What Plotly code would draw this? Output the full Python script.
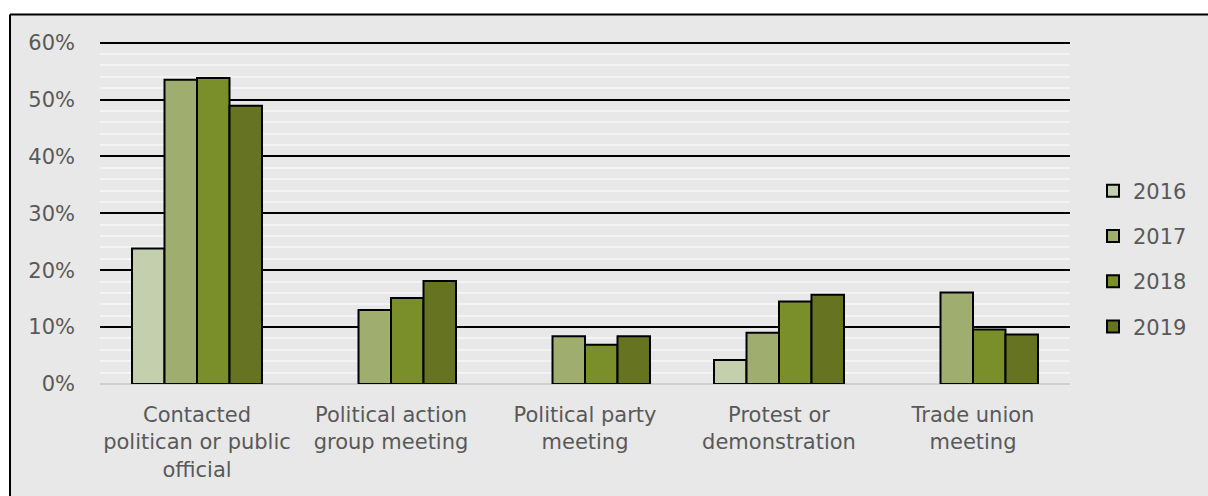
import plotly.graph_objects as go

categories = [
    "Contacted<br>politican or public<br>official",
    "Political action<br>group meeting",
    "Political party<br>meeting",
    "Protest or<br>demonstration",
    "Trade union<br>meeting",
]
years = ["2016", "2017", "2018", "2019"]
values_2016 = [0.238, None, None, 0.042, None]
values_2017 = [0.535, 0.130, 0.084, 0.090, 0.161]
values_2018 = [0.538, 0.151, 0.069, 0.145, 0.096]
values_2019 = [0.489, 0.181, 0.084, 0.157, 0.087]
series = [values_2016, values_2017, values_2018, values_2019]
colors = ["#c4cfae", "#9fad6e", "#7a8f29", "#667321"]
y_ticks = [0, 0.1, 0.2, 0.3, 0.4, 0.5, 0.6]

W, H = 1208, 496
ML, MR, MT, MB = 100, 138, 37, 112
PW, PH = W - ML - MR, H - MT - MB

FONT = "DejaVu Sans"
TEXT = "#595959"
BG = "#e8e8e8"
FS = 21

fig = go.Figure()
for yr, vals, col in zip(years, series, colors):
    fig.add_trace(go.Bar(
        name=yr, x=categories, y=vals,
        marker=dict(color=col, line=dict(color="black", width=2)),
        legendgroup=yr,
    ))


def px_x(px):
    return (px - ML) / PW


def px_y(py):
    return (H - MB - py) / PH


# chart area background with a black frame on its top and left edges
fig.add_shape(type="rect", xref="paper", yref="paper",
              x0=px_x(10), x1=px_x(W + 20), y0=px_y(H + 20), y1=px_y(14.5),
              fillcolor=BG, line=dict(width=0), layer="below")
fig.add_shape(type="line", xref="paper", yref="paper",
              x0=px_x(10), x1=px_x(W + 20), y0=px_y(14.5), y1=px_y(14.5),
              line=dict(color="black", width=2), layer="below")
fig.add_shape(type="line", xref="paper", yref="paper",
              x0=px_x(10), x1=px_x(10), y0=px_y(14.5), y1=px_y(H + 20),
              line=dict(color="black", width=2), layer="below")

fig.update_layout(
    width=W, height=H,
    margin=dict(l=ML, r=MR, t=MT, b=MB, pad=0),
    paper_bgcolor="white",
    plot_bgcolor="rgba(0,0,0,0)",
    barmode="group", bargap=0.33, bargroupgap=0,
    font=dict(family=FONT, size=FS, color=TEXT),
    legend=dict(x=px_x(1093), y=px_y(259), xanchor="left", yanchor="middle",
                bgcolor="rgba(0,0,0,0)", font=dict(size=FS, color=TEXT),
                tracegroupgap=15, traceorder="grouped"),
    xaxis=dict(showgrid=False, showline=False, ticks="", tickfont=dict(size=FS, color=TEXT),
               ticklabelstandoff=16),
    yaxis=dict(range=[0, 0.61], tickvals=y_ticks,
               tickformat=".0%", showline=False,
               showgrid=True, gridcolor="black", gridwidth=2,
               zeroline=True, zerolinecolor="#d0d0d0", zerolinewidth=2,
               minor=dict(tickvals=[i / 50 for i in range(31)], showgrid=True,
                          gridcolor="#f3f3f3", gridwidth=2),
               tickfont=dict(size=FS, color=TEXT), ticklabelstandoff=24),
)

fig.write_html("out.html")
